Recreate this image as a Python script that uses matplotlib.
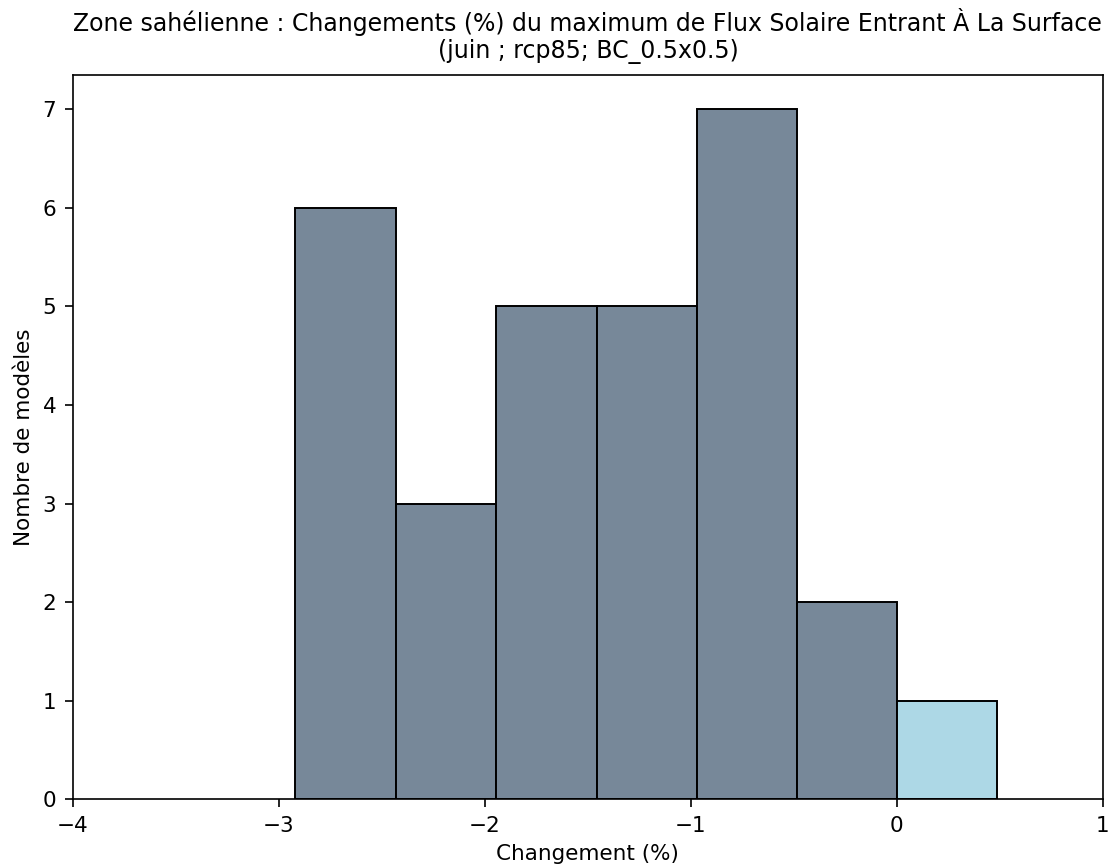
import matplotlib
matplotlib.use("Agg")
import matplotlib.pyplot as plt

# histogram bins
bin_edges = [-2.92, -2.43, -1.945, -1.458, -0.972, -0.486, 0.0, 0.486]
counts = [6, 3, 5, 5, 7, 2, 1]
neg_color = "#778899"
pos_color = "#add8e6"

title = ("Zone sahélienne : Changements (%) du maximum de Flux Solaire Entrant À La Surface\n"
         "(juin ; rcp85; BC_0.5x0.5)")

fig, ax = plt.subplots(figsize=(11.15, 8.67), dpi=100)
fig.subplots_adjust(left=0.0655, right=0.989, top=0.9135, bottom=0.0784)

lefts = bin_edges[:-1]
widths = [b - a for a, b in zip(bin_edges[:-1], bin_edges[1:])]
colors = [pos_color if l >= 0 else neg_color for l in lefts]
ax.bar(lefts, counts, width=widths, align="edge", color=colors, edgecolor="black", linewidth=1.4)

ax.set_xlim(-4, 1)
ax.set_xticks([-4, -3, -2, -1, 0, 1])
ax.set_xlabel("Changement (%)", fontsize=15.5, labelpad=6)
ax.set_ylabel("Nombre de modèles", fontsize=15.5, labelpad=6)
ax.set_title(title, fontsize=17, pad=12)
ax.tick_params(labelsize=15.5, width=1.2, length=6, pad=6)
for sp in ax.spines.values():
    sp.set_linewidth(1.2)

fig.savefig("out.png", dpi=100)
plt.close(fig)
